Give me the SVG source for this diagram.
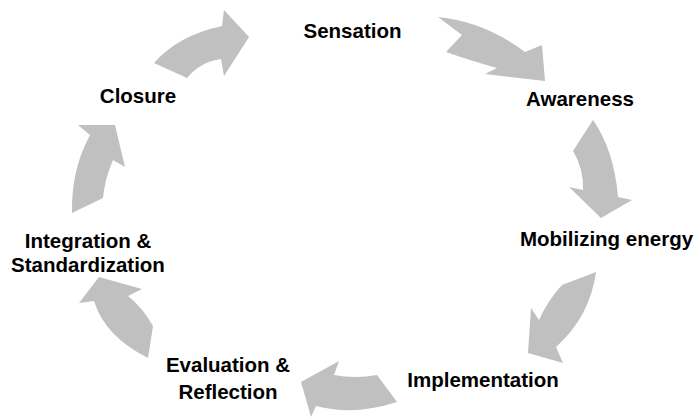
<svg xmlns="http://www.w3.org/2000/svg" width="697" height="417" viewBox="0 0 697 417">
  <style>
    .label { font-family: "Liberation Sans", Arial, sans-serif; font-weight: bold; font-size: 20.5px; fill: #000; text-anchor: middle; }
    .arrow { fill: #c0c0c0; stroke: none; }
  </style>
  <rect width="697" height="417" fill="#fff"/>

  <!-- curved block arrows running clockwise round the cycle -->
  <g id="connectors">
    <path class="arrow" d="M154,63 Q178,35.5 222,26 L224,10 L249,37 L224,76 L221,59 Q200,62 187,78 Z"/>
    <path class="arrow" d="M438,17 Q484.5,21.5 525,52 L542,45 L545,81 L485,74 L497,68 Q468.5,60 446,52 L462,35 Z"/>
    <path class="arrow" d="M593,120 Q614,150 618,197 L632,200 L601,218 L569,187 L583,190 Q584,169.5 573,151 Z"/>
    <path class="arrow" d="M596,272 Q590,316.5 556,347 L563,363 L528,353 L531,308 L539,320 Q548,300 562,285 Z"/>
    <path class="arrow" d="M377,375 Q355,379 334,375 L339,361 L301,382 L311,417 L316,406 Q353.5,416 397,402 Z"/>
    <path class="arrow" d="M148,358 Q105,336.5 94,301 L79,303 L99,277 L142,289 L128,296 Q143,308 153,326 Z"/>
    <path class="arrow" d="M72,213 Q71,170 90,135 L78,125 L115,125 L125,167 L113,160 Q105,178 103,198 Z"/>
  </g>

  <g id="sensation"><text class="label" x="352.5" y="38">Sensation</text></g>
  <g id="awareness"><text class="label" x="580" y="106">Awareness</text></g>
  <g id="mobilizing-energy"><text class="label" x="606.5" y="246">Mobilizing energy</text></g>
  <g id="implementation"><text class="label" x="483" y="387">Implementation</text></g>
  <g id="evaluation-reflection">
    <text class="label" x="228" y="372">Evaluation &amp;</text>
    <text class="label" x="228" y="399">Reflection</text>
  </g>
  <g id="integration-standardization">
    <text class="label" x="88" y="248">Integration &amp;</text>
    <text class="label" x="88" y="272">Standardization</text>
  </g>
  <g id="closure"><text class="label" x="138" y="103">Closure</text></g>
</svg>
